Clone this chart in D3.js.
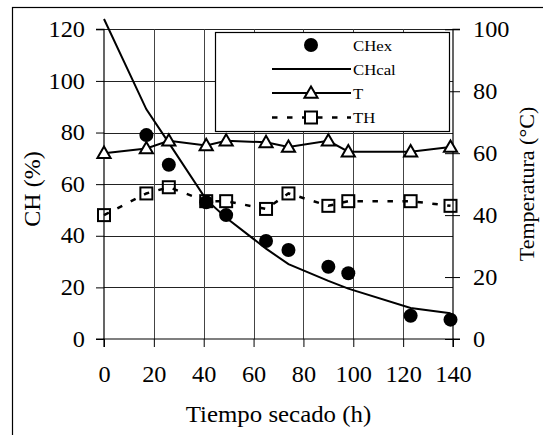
<!DOCTYPE html>
<html>
<head>
<meta charset="utf-8">
<script src="https://cdn.jsdelivr.net/npm/d3@7"></script>
<style>
  html, body { margin: 0; padding: 0; background: #fff; }
  svg { display: block; }
  svg text { font-family: "Liberation Serif", "Times New Roman", serif; fill: #000; }
</style>
</head>
<body>
<script>
// Drying time (h) at which moisture was measured
const timeCHex = [17, 26, 41, 49, 65, 74, 90, 98, 123, 139];
// Measured moisture content CH (%)
const chExp = [79, 67.5, 53, 48, 38, 34.5, 28, 25.5, 9, 7.5];

// Times for calculated moisture and temperatures
const timeT = [0, 17, 26, 41, 49, 65, 74, 90, 98, 123, 139];
// Calculated moisture content CH (%)
const chCal = [124, 89, 76, 54, 47, 35, 29, 22.5, 19.5, 12, 10];
// Air temperature T (°C)
const tempT = [60, 61.5, 64, 62.5, 64, 63.5, 62, 64, 60.5, 60.5, 62];
// Wet-bulb temperature TH (°C)
const tempTH = [40, 47, 49, 44.5, 44.5, 42, 47, 43, 44.5, 44.5, 43];

const xTicks = [0, 20, 40, 60, 80, 100, 120, 140];
const yLeftTicks = [0, 20, 40, 60, 80, 100, 120];
const yRightTicks = [0, 20, 40, 60, 80, 100];
const legendLabels = ["CHex", "CHcal", "T", "TH"];

const W = 543, H = 435;
const SERIF = '"Liberation Serif", "Times New Roman", serif';
const svg = d3.select("body").append("svg").attr("width", W).attr("height", H);

// Widen horizontal labels slightly (the serif face is set a little wide)
function widen(sel, k) {
  sel.each(function () {
    const w = this.getComputedTextLength();
    d3.select(this).attr("textLength", w * k).attr("lengthAdjust", "spacingAndGlyphs");
  });
}

// Outer frame (only its top and left edges fall inside the page)
svg.append("rect")
  .attr("x", 12.5).attr("y", 7.5).attr("width", 700).attr("height", 700)
  .attr("fill", "none").attr("stroke", "#000").attr("stroke-width", 1.2);

const x = d3.scaleLinear().domain([0, 140]).range([104, 453]);
const yL = d3.scaleLinear().domain([0, 120]).range([339, 29.3]);
const yR = d3.scaleLinear().domain([0, 100]).range([339, 29.3]);

const FS = 22.5;
const STRETCH = 1.08;

// Gridlines
const grid = svg.append("g");
grid.selectAll("line.h").data(yLeftTicks.filter(d => d > 0)).join("line")
  .attr("x1", x(0)).attr("x2", x(140))
  .attr("y1", d => Math.round(yL(d)) + 0.5).attr("y2", d => Math.round(yL(d)) + 0.5)
  .attr("stroke", "#222").attr("stroke-width", 1);
grid.selectAll("line.v").data(xTicks.filter(d => d > 0 && d < 140)).join("line")
  .attr("y1", yL(120)).attr("y2", yL(0))
  .attr("x1", d => Math.round(x(d)) + 0.5).attr("x2", d => Math.round(x(d)) + 0.5)
  .attr("stroke", "#444").attr("stroke-width", 1);

// Left axis
const axL = svg.append("g").attr("transform", `translate(${x(0)},0)`)
  .call(d3.axisLeft(yL).tickValues(yLeftTicks).tickSize(8).tickPadding(11).tickFormat(d3.format("d")));
// Bottom axis
const axB = svg.append("g").attr("transform", `translate(0,${yL(0)})`)
  .call(d3.axisBottom(x).tickValues(xTicks).tickSize(8).tickPadding(19).tickFormat(d3.format("d")));
// Right axis (ticks cross the axis line)
const axR = svg.append("g").attr("transform", `translate(${x(140)},0)`)
  .call(d3.axisRight(yR).tickValues(yRightTicks).tickSize(7).tickPadding(13).tickFormat(d3.format("d")));
axR.selectAll(".tick line").attr("x1", -8);

[axL, axB, axR].forEach(ax => {
  ax.attr("font-family", null).attr("font-size", null);
  ax.select(".domain").attr("stroke", "#000").attr("stroke-width", 1.2);
  ax.selectAll(".tick line").attr("stroke", "#000").attr("stroke-width", 1);
  ax.selectAll(".tick text").style("font-family", SERIF).style("font-size", FS + "px")
    .attr("fill", "#000");
  widen(ax.selectAll(".tick text"), STRETCH);
});
axL.select(".domain").attr("d", `M-8,${yL(120)}H0V${yL(0)}H-8`);
axB.select(".domain").attr("d", `M${x(0)},8V0H${x(140)}V8`);
axR.select(".domain").attr("d", `M7,${yR(100)}H0V${yR(0)}H7`);

// Axis titles
const xt = svg.append("text").attr("x", 278.5).attr("y", 422).attr("text-anchor", "middle")
  .style("font-size", "23px").text("Tiempo secado (h)");
widen(xt, STRETCH);
svg.append("text").attr("transform", "translate(40,189) rotate(-90)")
  .attr("text-anchor", "middle").style("font-size", "24px").text("CH (%)");
svg.append("text").attr("transform", "translate(534,184) rotate(-90)")
  .attr("text-anchor", "middle").style("font-size", "22px").text("Temperatura (°C)");

// Series
const plot = svg.append("g");
const line = (ys, yScale) => d3.line().x((d, i) => x(timeT[i])).y(d => yScale(d))(ys);

// Calculated moisture curve
plot.append("path").attr("d", line(chCal, yL))
  .attr("fill", "none").attr("stroke", "#000").attr("stroke-width", 2);

// Measured moisture points
plot.selectAll("circle.chex").data(chExp).join("circle")
  .attr("cx", (d, i) => x(timeCHex[i])).attr("cy", d => yL(d)).attr("r", 7)
  .attr("fill", "#000");

// Wet-bulb temperature, dashed, open squares
plot.append("path").attr("d", line(tempTH, yR))
  .attr("fill", "none").attr("stroke", "#000").attr("stroke-width", 2.5)
  .attr("stroke-dasharray", "5.5,9.5");
const sq = 6;
plot.selectAll("rect.th").data(tempTH).join("rect")
  .attr("x", (d, i) => x(timeT[i]) - sq).attr("y", d => yR(d) - sq)
  .attr("width", 2 * sq).attr("height", 2 * sq)
  .attr("fill", "none").attr("stroke", "#000").attr("stroke-width", 2);

// Air temperature, solid, open triangles
plot.append("path").attr("d", line(tempT, yR))
  .attr("fill", "none").attr("stroke", "#000").attr("stroke-width", 2);
const tri = d3.symbol().type(d3.symbolTriangle).size(75);
plot.selectAll("path.t").data(tempT).join("path")
  .attr("transform", (d, i) => `translate(${x(timeT[i])},${yR(d) + 1})`)
  .attr("d", tri)
  .attr("fill", "#fff").attr("stroke", "#000").attr("stroke-width", 2);

// Legend
const lg = svg.append("g");
lg.append("rect").attr("x", 215.5).attr("y", 32.5).attr("width", 234).attr("height", 99)
  .attr("fill", "#fff").attr("stroke", "#000").attr("stroke-width", 1.2);
const rowY = [45, 69, 93, 117.5];
const sx1 = 272, sx2 = 351, mx = 311;
lg.append("circle").attr("cx", mx).attr("cy", rowY[0]).attr("r", 7).attr("fill", "#000");
lg.append("line").attr("x1", sx1).attr("x2", sx2).attr("y1", rowY[1]).attr("y2", rowY[1])
  .attr("stroke", "#000").attr("stroke-width", 2);
lg.append("line").attr("x1", sx1).attr("x2", sx2).attr("y1", rowY[2]).attr("y2", rowY[2])
  .attr("stroke", "#000").attr("stroke-width", 2);
lg.append("path").attr("transform", `translate(${mx},${rowY[2] + 1})`).attr("d", tri)
  .attr("fill", "#fff").attr("stroke", "#000").attr("stroke-width", 2);
lg.append("line").attr("x1", sx1).attr("x2", sx2).attr("y1", rowY[3]).attr("y2", rowY[3])
  .attr("stroke", "#000").attr("stroke-width", 2.5).attr("stroke-dasharray", "5.5,9.5");
lg.append("rect").attr("x", mx - sq).attr("y", rowY[3] - sq).attr("width", 2 * sq).attr("height", 2 * sq)
  .attr("fill", "#fff").attr("stroke", "#000").attr("stroke-width", 2);
const lt = lg.selectAll("text").data(legendLabels).join("text")
  .attr("x", 353).attr("y", (d, i) => rowY[i] + 5.5)
  .style("font-size", "15.5px").text(d => d);
widen(lt, STRETCH);
</script>
</body>
</html>
